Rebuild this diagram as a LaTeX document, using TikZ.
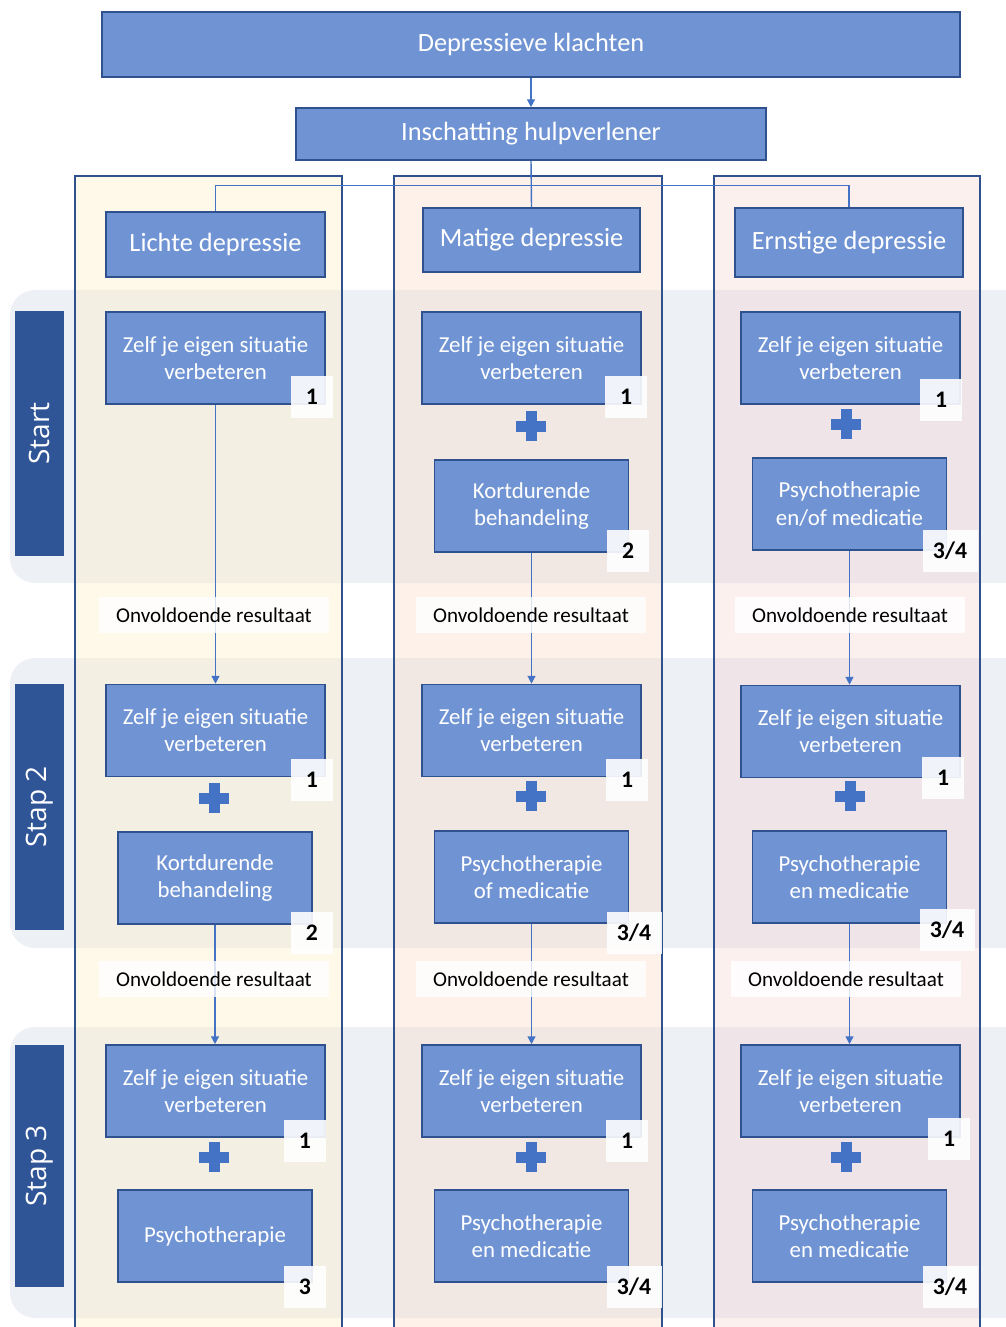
\documentclass[tikz,border=0pt]{standalone}
\usepackage{fontspec}
\setmainfont{Carlito}
\newfontfamily\sidefont{Open Sans}
\usetikzlibrary{positioning,calc,arrows.meta}

\definecolor{boxblue}{HTML}{7094D3}
\definecolor{boxline}{HTML}{2F528F}
\definecolor{sideblue}{HTML}{2F5597}
\definecolor{plusblue}{HTML}{4472C4}
\definecolor{bandgray}{HTML}{EDF0F5}
\definecolor{colyellow}{HTML}{FDEFC9}
\definecolor{colpeach}{HTML}{F9DCC8}
\definecolor{colpink}{HTML}{F5D3D2}

\newcommand{\pxu}{0.02cm}

\tikzset{
  box/.style={draw=boxline, fill=boxblue, text=white, line width=0.9pt,
    align=center, inner sep=0pt, font=\fontsize{13}{15.5}\selectfont},
  zelfbox/.style={box, minimum width=219*\pxu, minimum height=92*\pxu},
  treatbox/.style={box, minimum width=194*\pxu, minimum height=92*\pxu},
  headbox/.style={box, font=\fontsize{15}{18}\selectfont},
  badge/.style={fill=white, fill opacity=0.9, text opacity=1,
    minimum width=42*\pxu, minimum height=42*\pxu, inner sep=0pt,
    font=\fontsize{13.5}{15}\selectfont\bfseries},
  widebadge/.style={badge, minimum width=55*\pxu},
  onv/.style={fill=white, fill opacity=0.8, text opacity=1,
    minimum width=230*\pxu, minimum height=36*\pxu,
    font=\fontsize{12}{14}\selectfont},
  sidebox/.style={fill=sideblue, text=white, rotate=90, inner sep=0pt,
    minimum height=49*\pxu, font=\sidefont\fontsize{16}{18}\selectfont},
  band/.style={fill=bandgray, rounded corners=0.5cm},
  colbox/.style={draw=boxline, line width=0.8pt},
  arr/.style={-{Triangle[length=4.5pt,width=4.5pt]}, draw=plusblue, line width=0.8pt},
  link/.style={draw=plusblue, line width=0.8pt},
  plussign/.pic={
    \fill[plusblue] (-15,-5.5) rectangle (15,5.5);
    \fill[plusblue] (-5.5,-15) rectangle (5.5,15);
  }
}

\begin{document}
\begin{tikzpicture}[x=0.02cm, y=-0.02cm]
  \useasboundingbox (0,0) rectangle (1006,1327);

  % rows and columns
  \fill[band] (10,290) rectangle (1040,583);
  \fill[band] (10,658) rectangle (1040,948);
  \fill[band] (10,1027) rectangle (1040,1318);
  \fill[colyellow, opacity=.4] (75,176) rectangle (342,1340);
  \fill[colpeach, opacity=.4] (394,176) rectangle (662,1340);
  \fill[colpink, opacity=.35] (714,176) rectangle (980,1340);
  \draw[colbox] (75,1340) |- (342,176) -- (342,1340);
  \draw[colbox] (394,1340) |- (662,176) -- (662,1340);
  \draw[colbox] (714,1340) |- (980,176) -- (980,1340);

  \node[sidebox, minimum width=245*\pxu] (start) at (39.5,433.5) {Start};
  \node[sidebox, minimum width=246*\pxu] (stap2) at (39.5,807) {Stap 2};
  \node[sidebox, minimum width=242*\pxu] (stap3) at (39.5,1166) {Stap 3};

  % top
  \node[headbox, minimum width=858*\pxu, minimum height=65*\pxu] (dk) at (531,44.5) {Depressieve klachten};
  \node[headbox, minimum width=470*\pxu, minimum height=52*\pxu] (insch) at (531,134) {Inschatting hulpverlener};
  \node[headbox, minimum width=219*\pxu, minimum height=65*\pxu] (lichte) at (215.5,244.5) {Lichte depressie};
  \node[headbox, minimum width=217*\pxu, minimum height=64*\pxu] (matige) at (531.5,240) {Matige depressie};
  \node[headbox, minimum width=228*\pxu, minimum height=69*\pxu] (ernstige) at (849,242.5) {Ernstige depressie};

  % start
  \node[zelfbox] (z1L) at (215.5,358) {Zelf je eigen situatie\\verbeteren};
  \node[zelfbox] (z1M) at (531.5,358) {Zelf je eigen situatie\\verbeteren};
  \node[zelfbox] (z1R) at (850.5,358) {Zelf je eigen situatie\\verbeteren};
  \node[treatbox] (t1M) at (531.5,506) {Kortdurende\\behandeling};
  \node[treatbox] (t1R) at (849.5,504) {Psychotherapie\\en/of medicatie};

  % stap 2
  \node[zelfbox] (z2L) at (215.5,730.5) {Zelf je eigen situatie\\verbeteren};
  \node[zelfbox] (z2M) at (531.5,730.5) {Zelf je eigen situatie\\verbeteren};
  \node[zelfbox] (z2R) at (850.5,731.5) {Zelf je eigen situatie\\verbeteren};
  \node[treatbox] (t2L) at (215,878) {Kortdurende\\behandeling};
  \node[treatbox] (t2M) at (531.5,877) {Psychotherapie\\of medicatie};
  \node[treatbox] (t2R) at (849.5,877) {Psychotherapie\\en medicatie};

  % stap 3
  \node[zelfbox] (z3L) at (215.5,1091) {Zelf je eigen situatie\\verbeteren};
  \node[zelfbox] (z3M) at (531.5,1091) {Zelf je eigen situatie\\verbeteren};
  \node[zelfbox] (z3R) at (850.5,1091) {Zelf je eigen situatie\\verbeteren};
  \node[treatbox] (t3L) at (215,1236) {Psychotherapie};
  \node[treatbox] (t3M) at (531.5,1236) {Psychotherapie\\en medicatie};
  \node[treatbox] (t3R) at (849.5,1236) {Psychotherapie\\en medicatie};

  % connectors
  \draw[arr] (dk) -- (insch);
  \draw[link] (insch.south) -- (matige.north);
  \draw[link] (lichte.north) -- ++(0,-26) -| (ernstige.north);
  \draw[arr] (z1L.south) -- (z2L.north);
  \draw[arr] (t1M.south) -- (z2M.north);
  \draw[arr] (t1R.south) -- (t1R.south |- z2R.north);
  \draw[arr] (t2L.south) -- (t2L.south |- z3L.north);
  \draw[arr] (t2M.south) -- (z3M.north);
  \draw[arr] (t2R.south) -- (t2R.south |- z3R.north);

  \node[onv] (o1L) at (214,615) {Onvoldoende resultaat};
  \node[onv] (o1M) at (531,615) {Onvoldoende resultaat};
  \node[onv] (o1R) at (850,615) {Onvoldoende resultaat};
  \node[onv] (o2L) at (214,979) {Onvoldoende resultaat};
  \node[onv] (o2M) at (531,979) {Onvoldoende resultaat};
  \node[onv] (o2R) at (846,979) {Onvoldoende resultaat};

  % plus signs
  \pic at (531,426) {plussign};
  \pic at (846,424) {plussign};
  \pic at (214,798) {plussign};
  \pic at (531,796) {plussign};
  \pic at (850,796) {plussign};
  \pic at (214,1157) {plussign};
  \pic at (531,1157) {plussign};
  \pic at (846,1157) {plussign};

  % badges
  \node[badge] (b1L) at (312,397) {1};
  \node[badge] (b1M) at (626,397) {1};
  \node[badge] (b1R) at (941,400) {1};
  \node[badge] (c1M) at (628,551) {2};
  \node[widebadge] (c1R) at (950,551) {3/4};
  \node[badge] (b2L) at (312,780) {1};
  \node[badge] (b2M) at (627,780) {1};
  \node[badge] (b2R) at (943,778) {1};
  \node[badge] (c2L) at (312,933) {2};
  \node[widebadge] (c2M) at (634,933) {3/4};
  \node[widebadge] (c2R) at (947,930) {3/4};
  \node[badge] (b3L) at (305,1141) {1};
  \node[badge] (b3M) at (627,1141) {1};
  \node[badge] (b3R) at (949,1139) {1};
  \node[badge] (c3L) at (305,1287) {3};
  \node[widebadge] (c3M) at (634,1287) {3/4};
  \node[widebadge] (c3R) at (950,1287) {3/4};
\end{tikzpicture}
\end{document}
